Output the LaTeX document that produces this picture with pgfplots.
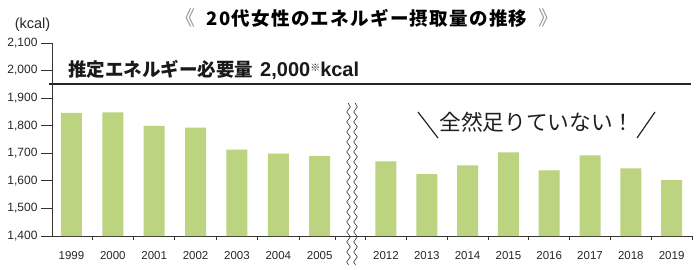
\documentclass[border=0pt]{standalone}
\usepackage{fontspec}
\setmainfont{Liberation Sans}
\newfontfamily\jp{Noto Sans CJK JP}
\newfontfamily\jpt{Noto Sans CJK JP}[LetterSpace=7]
\usepackage{pgfplots}
\pgfplotsset{compat=1.18}
\usetikzlibrary{decorations.pathmorphing}
\definecolor{barc}{RGB}{188,211,128}
\definecolor{axc}{RGB}{55,52,52}
\definecolor{linec}{RGB}{42,36,36}
\pgfplotsset{
  base/.style={
    scale only axis, height=193pt, ymin=1400, ymax=2100,
    ybar, bar width=21pt,
    tick align=outside,
    axis line style={axc, line width=0.9pt},
    major x tick style={draw=none},
    minor x tick style={axc, line width=0.8pt},
    minor tick length=4pt,
    major tick length=11pt,
    major y tick style={axc, line width=0.9pt},
    x tick label style={font=\fontsize{11.5}{12}\selectfont, text=black!85, yshift=-1pt},
    y tick label style={font=\fontsize{12}{12}\selectfont, text=black!85},
    /pgf/number format/.cd, 1000 sep={,}, assume math mode=true,
  }
}
\begin{document}
\begin{tikzpicture}
\path[use as bounding box] (0,0) rectangle (700pt,269pt);
\begin{axis}[base,
  at={(52pt,33pt)}, anchor=south west,
  width=300pt, xmin=-0.47, xmax=6.78,
  axis lines*=left,
  ytick={1400,1500,...,2100}, scaled y ticks=false,
  xtick={0,...,6}, xticklabels={1999,2000,2001,2002,2003,2004,2005},
  minor xtick={0.5,1.5,2.5,3.5,4.5,5.5,6.37},
]
\addplot[fill=barc, draw=none] coordinates {
(0,1847) (1,1848) (2,1799) (3,1793) (4,1713) (5,1699) (6,1691)};
\end{axis}
\begin{axis}[base,
  at={(352pt,33pt)}, anchor=south west,
  width=340pt, xmin=-0.833, xmax=7.5,
  axis x line*=bottom, axis y line=none, ytick=\empty,
  xtick={0,...,7}, xticklabels={2012,2013,2014,2015,2016,2017,2018,2019},
  minor xtick={-0.5,0.5,1.5,2.5,3.5,4.5,5.5,6.5,7.5},
]
\addplot[fill=barc, draw=none] coordinates {
(0,1671) (1,1624) (2,1656) (3,1703) (4,1638) (5,1692) (6,1645) (7,1603)};
\end{axis}
% break marks
\draw[axc, line width=0.6pt, decorate, decoration={snake, amplitude=1.8pt, segment length=10pt}] (348.5pt,4pt) -- (348.5pt,166pt);
\draw[axc, line width=0.6pt, decorate, decoration={snake, amplitude=1.8pt, segment length=10pt}] (355.5pt,4pt) -- (355.5pt,166pt);
% requirement line
\draw[linec, line width=2.7pt] (49pt,185pt) -- (691pt,185pt);
\node[anchor=west, inner sep=0pt, text=black!90] at (68pt,199pt)
  {\fontsize{18.5}{19}\selectfont\jp\bfseries 推定エネルギー必要量\hspace{7pt}\fontsize{20}{20}\selectfont\rmfamily\bfseries 2,000\raisebox{0.5ex}{\fontsize{10}{10}\selectfont\jp ※}kcal};
% title
\node[inner sep=0pt] at (367pt,251pt)
  {{\fontsize{20}{20}\selectfont\jp\color{black!40}《}\hspace{11pt}{\fontsize{18.5}{19}\selectfont\jpt\bfseries 20代女性のエネルギー摂取量の推移}\hspace{11pt}{\fontsize{20}{20}\selectfont\jp\color{black!40}》}};
% unit
\node[inner sep=0pt, text=black!85] at (32.5pt,244pt) {\fontsize{14.5}{15}\selectfont (kcal)};
% callout
\node[inner sep=0pt, text=black!88] at (537pt,147pt) {\fontsize{21.7}{22}\selectfont\jp 全然足りていない！};
\draw[black!85, line width=1.2pt] (418pt,157pt) -- (438pt,131pt);
\draw[black!85, line width=1.2pt] (655pt,157pt) -- (637pt,131pt);
\end{tikzpicture}
\end{document}
